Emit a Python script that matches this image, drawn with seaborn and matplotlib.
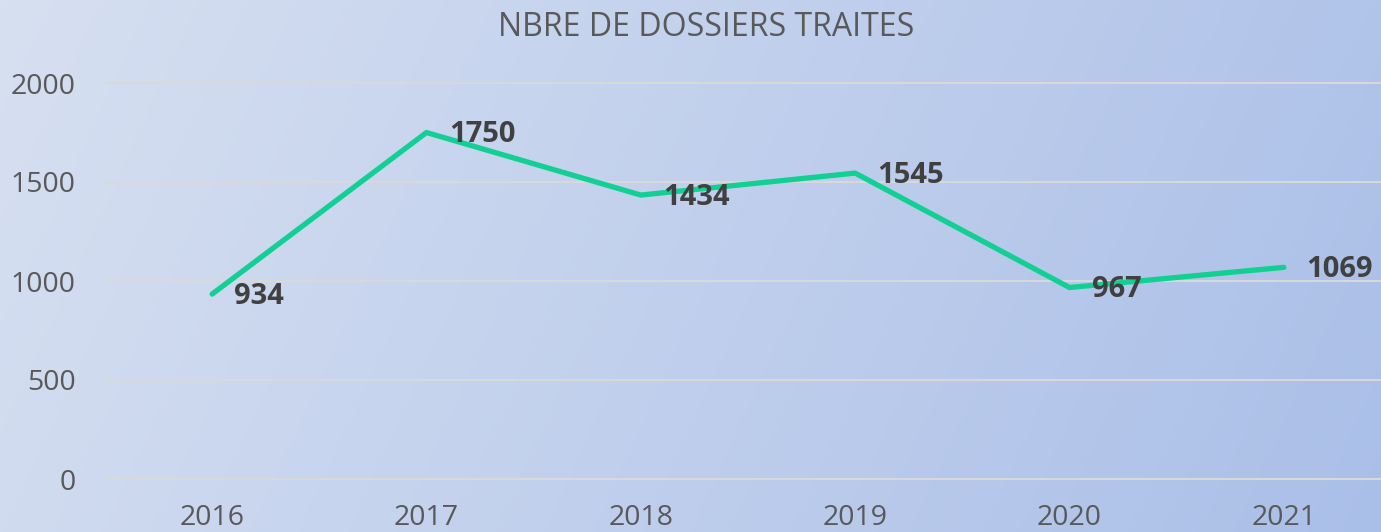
import matplotlib
matplotlib.use("Agg")
import matplotlib.pyplot as plt
import seaborn as sns
import numpy as np
import pandas as pd

# donnees du graphique
annees = ["2016", "2017", "2018", "2019", "2020", "2021"]
dossiers = [934, 1750, 1434, 1545, 967, 1069]
titre = "NBRE DE DOSSIERS TRAITES"

df = pd.DataFrame({"annee": annees, "dossiers": dossiers})

sns.set_style("white")
plt.rcParams["font.family"] = ["Open Sans", "DejaVu Sans"]

W, H = 1381, 532
fig = plt.figure(figsize=(W / 100, H / 100), dpi=100)

# fond en degrade (haut gauche clair -> droite plus bleu)
bg = fig.add_axes([0, 0, 1, 1], zorder=0)
gx, gy = np.meshgrid(np.linspace(0, 1, 300), np.linspace(0, 1, 120))
t = 0.85 * gx + 0.15 * gy
c0 = np.array([215, 224, 241]) / 255
c1 = np.array([170, 191, 232]) / 255
img = c0[None, None, :] + (c1 - c0)[None, None, :] * t[..., None]
bg.imshow(img, aspect="auto", extent=[0, 1, 0, 1], origin="upper")
bg.axis("off")

# zone de trace (coupee a droite comme sur l'original)
ymin, ymax = -20, 2020
px_per = 396 / 2000
bottom_px = 479 + (0 - ymin) * px_per
top_px = 83 - (ymax - 2000) * px_per
ax = fig.add_axes([105 / W, 1 - bottom_px / H, 1286 / W, (bottom_px - top_px) / H], zorder=1)
ax.patch.set_alpha(0)

sns.lineplot(data=df, x="annee", y="dossiers", ax=ax, color="#12cf93",
             linewidth=3.8, sort=False, zorder=3)

for i, v in enumerate(dossiers):
    ax.annotate(str(v), (i, v), xytext=(16, -1.5), textcoords="offset points",
                ha="left", va="center", fontsize=21, fontweight="bold",
                color="#404040", zorder=4)

ax.set_xlim(-0.5, 5.5)
ax.set_ylim(ymin, ymax)
ax.set_yticks([0, 500, 1000, 1500, 2000])
ax.yaxis.grid(True, color="#d9d9d9", linewidth=1.4)
ax.set_axisbelow(True)
for s in ax.spines.values():
    s.set_visible(False)
ax.tick_params(axis="both", length=0, labelsize=20.5, labelcolor="#595959")
ax.tick_params(axis="y", pad=21)
ax.tick_params(axis="x", pad=15)
ax.set_xlabel("")
ax.set_ylabel("")

fig.text(706 / W, 1 - 27 / H, titre, ha="center", va="center",
         fontsize=23, color="#595959")

fig.savefig("out.png", dpi=100)
